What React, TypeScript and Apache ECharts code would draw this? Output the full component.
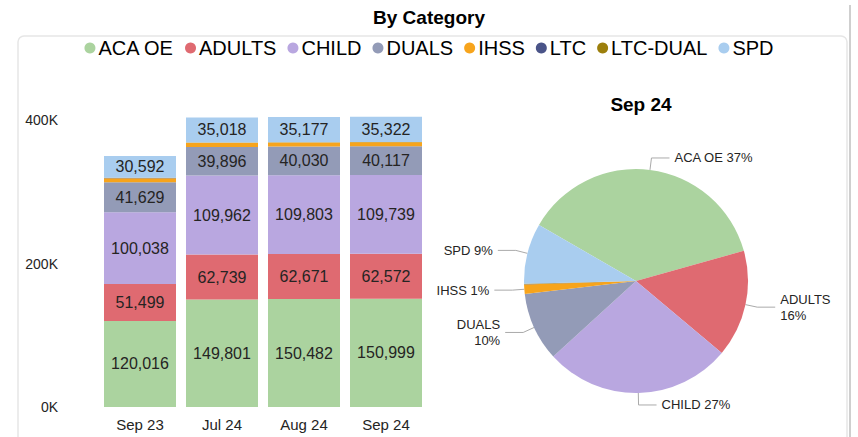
import React, { useEffect, useRef } from "react";
import * as echarts from "echarts";

const categories = ["Sep 23", "Jul 24", "Aug 24", "Sep 24"];
const seriesNames = ["ACA OE", "ADULTS", "CHILD", "DUALS", "IHSS", "LTC", "LTC-DUAL", "SPD"];
const acaOE = [120016, 149801, 150482, 150999];
const adults = [51499, 62739, 62671, 62572];
const child = [100038, 109962, 109803, 109739];
const duals = [41629, 39896, 40030, 40117];
const ihss = [5800, 5800, 5600, 5500];
const ltc = [150, 150, 150, 150];
const ltcDual = [250, 250, 250, 250];
const spd = [30592, 35018, 35177, 35322];
const yTicks = [0, 200000, 400000];
const colors = ["#abd39f", "#df6a71", "#b9a7e0", "#939bb7", "#f7a41c", "#4a5488", "#9c7f0c", "#a9cdef"];
const labeledSeries = ["ACA OE", "ADULTS", "CHILD", "DUALS", "SPD"];
const twoLineLabels = ["ADULTS", "DUALS"];
const pieMonthIndex = 3;

const FONT = "'Liberation Sans', Arial, sans-serif";
const TEXT = "#252423";

export default function App() {
  const ref = useRef<HTMLDivElement>(null);
  useEffect(() => {
    document.body.style.margin = "0";
    if (!ref.current) return;
    const chart = echarts.init(ref.current, undefined, { renderer: "svg" });
    const values = [acaOE, adults, child, duals, ihss, ltc, ltcDual, spd];
    const barSeries = seriesNames.map((name, i) => ({
      name,
      type: "bar",
      stack: "total",
      barWidth: 72,
      clip: false,
      data: values[i],
      itemStyle: { color: colors[i] },
      label: {
        show: labeledSeries.includes(name),
        position: "inside",
        fontSize: 16,
        fontFamily: FONT,
        color: TEXT,
        formatter: (p: any) => Number(p.value).toLocaleString("en-US"),
      },
    }));
    const pieData = seriesNames.map((name, i) => {
      const v = values[i][pieMonthIndex];
      const hide = v < 1000;
      return {
        name,
        value: v,
        itemStyle: { color: colors[i] },
        label: { show: !hide },
        labelLine: { show: !hide },
      };
    });
    chart.setOption({
      animation: false,
      textStyle: { fontFamily: FONT },
      title: [
        {
          text: "By Category",
          left: "center",
          top: 3,
          textStyle: { fontSize: 19, fontWeight: "bold", color: "#000", fontFamily: FONT },
        },
        {
          text: categories[pieMonthIndex],
          left: 636,
          textAlign: "center",
          top: 90,
          textStyle: { fontSize: 19, fontWeight: "bold", color: "#000", fontFamily: FONT },
        },
      ],
      legend: {
        data: seriesNames,
        top: 33,
        left: "center",
        icon: "circle",
        itemWidth: 11,
        itemHeight: 11,
        itemGap: 11,
        textStyle: { fontSize: 20, color: "#000", fontFamily: FONT, padding: [0, 0, 0, -2] },
      },
      graphic: [
        {
          type: "rect",
          shape: { x: 18, y: 36, width: 829, height: 500, r: 6 },
          style: { fill: "none", stroke: "#e6e6e6", lineWidth: 1.5 },
          silent: true,
          z: -1,
        },
        {
          type: "line",
          shape: { x1: 850, y1: 5, x2: 850, y2: 440 },
          style: { stroke: "#cfcfcf", lineWidth: 2 },
          silent: true,
        },
      ],
      grid: { left: 99, width: 328, top: 120, bottom: 30, containLabel: false },
      xAxis: {
        type: "category",
        data: categories,
        axisLine: { show: false },
        axisTick: { show: false },
        axisLabel: { fontSize: 15, color: TEXT, margin: 10, fontFamily: FONT },
      },
      yAxis: {
        type: "value",
        min: yTicks[0],
        max: yTicks[yTicks.length - 1],
        interval: yTicks[1] - yTicks[0],
        splitLine: { show: false },
        axisLine: { show: false },
        axisTick: { show: false },
        axisLabel: {
          fontSize: 14,
          color: TEXT,
          margin: 41,
          fontFamily: FONT,
          formatter: (v: number) => `${v / 1000}K`,
        },
      },
      series: [
        ...barSeries,
        {
          name: "pie",
          type: "pie",
          center: [636, 281],
          radius: 112,
          startAngle: 150,
          percentPrecision: 0,
          data: pieData,
          label: {
            fontSize: 13,
            color: TEXT,
            fontFamily: FONT,
            lineHeight: 16,
            formatter: (p: any) =>
              twoLineLabels.includes(p.name) ? `${p.name}\n${p.percent}%` : `${p.name} ${p.percent}%`,
          },
          labelLine: { length: 12, length2: 18, lineStyle: { color: "#aaaaaa", width: 1 } },
        },
      ],
    });
    return () => chart.dispose();
  }, []);
  return <div ref={ref} style={{ width: 858, height: 437 }} />;
}
